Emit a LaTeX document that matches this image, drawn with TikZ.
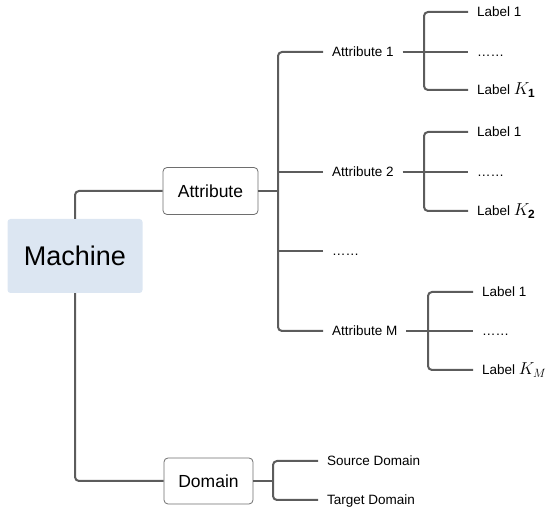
\documentclass[tikz,border=0pt]{standalone}
\usepackage{fontspec}
\setmainfont{Liberation Sans}
\usetikzlibrary{calc}
\definecolor{linegray}{HTML}{5C5C5C}
\definecolor{boxgray}{HTML}{6E6E6E}
\definecolor{machblue}{HTML}{DCE6F2}
\tikzset{
  conn/.style={draw=linegray, line width=2pt, rounded corners=4pt},
  machbox/.style={fill=machblue, rounded corners=3pt, minimum width=135pt, minimum height=74pt, inner sep=0pt, font=\fontsize{27}{30}\selectfont},
  catbox/.style={draw=boxgray, line width=0.8pt, fill=white, rounded corners=4pt, inner sep=0pt, font=\fontsize{17.5}{20}\selectfont},
  leaf/.style={anchor=west, inner xsep=0pt, inner ysep=0pt, outer xsep=9pt, outer ysep=0pt, text height=9.5pt, text depth=0pt, font=\fontsize{13.5}{15}\selectfont},
}
\newcommand{\bigK}[1]{{\fontsize{17}{19}\selectfont$K_{#1}$}}
\begin{document}
\begin{tikzpicture}[x=1pt,y=-1pt]
\useasboundingbox (0,0) rectangle (550,510);
% main nodes
\node[machbox] (m) at (75,256) {Machine};
\node[catbox, minimum width=95pt, minimum height=47pt] (attr) at (210.5,191) {Attribute};
\node[catbox, minimum width=89pt, minimum height=46pt] (dom) at (208.5,481) {Domain};
% attribute level
\node[leaf] (a1) at (323,52) {Attribute 1};
\node[leaf] (a2) at (323,172) {Attribute 2};
\node[leaf] (a3) at (323,251) {……};
\node[leaf] (aM) at (323,331) {Attribute M};
% labels of attribute 1
\node[leaf] (l11) at (468,12) {Label 1};
\node[leaf] (l12) at (468,52) {……};
\node[leaf] (l13) at (468,90) {Label \bigK{\mathbf{1}}};
% labels of attribute 2
\node[leaf] (l21) at (468,132) {Label 1};
\node[leaf] (l22) at (468,172) {……};
\node[leaf] (l23) at (468,211) {Label \bigK{\mathbf{2}}};
% labels of attribute M
\node[leaf] (lM1) at (473,292) {Label 1};
\node[leaf] (lM2) at (473,331) {……};
\node[leaf] (lM3) at (473,370) {Label \bigK{M}};
% domains
\node[leaf] (sd) at (318,461) {Source Domain};
\node[leaf] (td) at (318,500) {Target Domain};
% junction coordinates
\coordinate (tr) at (278,191);
\coordinate (j1) at (424,52);
\coordinate (j2) at (424,172);
\coordinate (jM) at (428,331);
\coordinate (jd) at (273,481);
% connectors
\draw[conn] (m.north) |- (attr.west);
\draw[conn] (m.south) |- (dom.west);
\draw[conn] (attr.east) -- (tr);
\draw[conn] (a1.west) -| (tr) |- (aM.west);
\draw[conn] (a2.west) -- (a2.west -| tr);
\draw[conn] (a3.west) -- (a3.west -| tr);
\draw[conn] (a1.east) -- (l12.west);
\draw[conn] (l11.west) -| (j1) |- (l13.west);
\draw[conn] (a2.east) -- (l22.west);
\draw[conn] (l21.west) -| (j2) |- (l23.west);
\draw[conn] (aM.east) -- (lM2.west);
\draw[conn] (lM1.west) -| (jM) |- (lM3.west);
\draw[conn] (dom.east) -- (jd);
\draw[conn] (sd.west) -| (jd) |- (td.west);
\end{tikzpicture}
\end{document}
